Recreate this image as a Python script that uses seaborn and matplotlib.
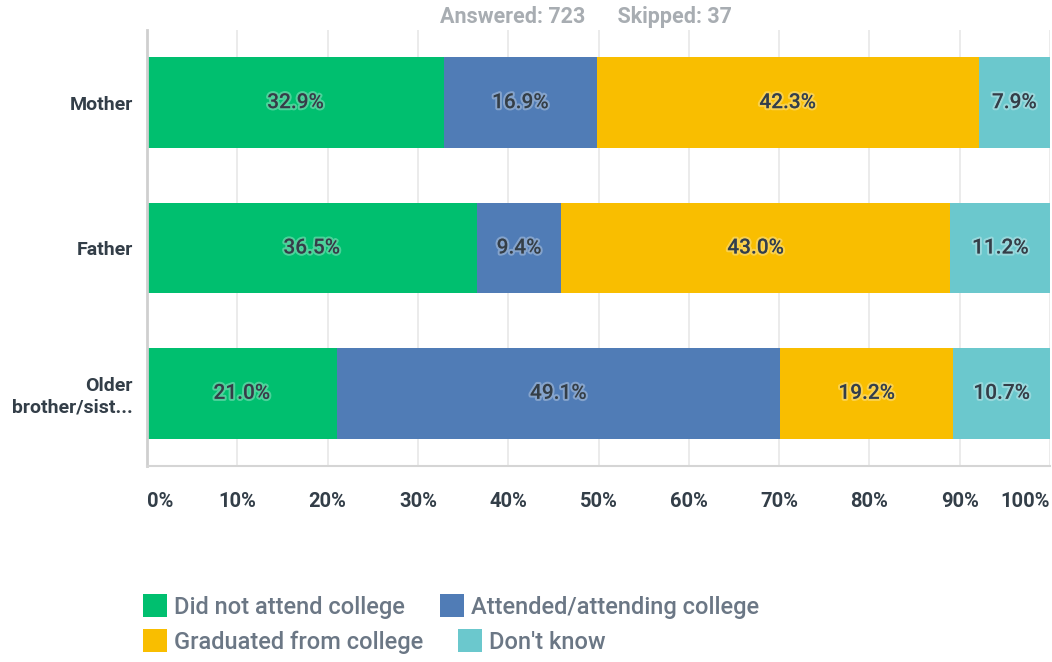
import numpy as np
import pandas as pd
import matplotlib
matplotlib.use('Agg')
import matplotlib.pyplot as plt
import matplotlib.patheffects as pe
from matplotlib.patches import Patch
import seaborn as sns

# survey answers, percent of respondents
relatives = ['Mother', 'Father', 'Older\nbrother/sist...']
answers = ['Did not attend college', 'Attended/attending college',
           'Graduated from college', "Don't know"]
did_not_attend = [32.9, 36.5, 21.0]
attended = [16.9, 9.4, 49.1]
graduated = [42.3, 43.0, 19.2]
dont_know = [7.9, 11.2, 10.7]
xticks = [0, 10, 20, 30, 40, 50, 60, 70, 80, 90, 100]
header = 'Answered: 723      Skipped: 37'

colors = ['#00BF6F', '#507CB6', '#F9BE00', '#6BC8CD']
dark = '#333E48'

sns.set_style('white')
plt.rcParams['font.family'] = ['Roboto', 'DejaVu Sans']

df = pd.DataFrame({'relative': relatives,
                   answers[0]: did_not_attend,
                   answers[1]: attended,
                   answers[2]: graduated,
                   answers[3]: dont_know})
vals = df[answers].to_numpy()
cum = vals.cumsum(axis=1)

fig = plt.figure(figsize=(10.52, 6.62), dpi=100)
ax = fig.add_axes([147 / 1052, 1 - 466 / 662, 903 / 1052, 436 / 662])

# stacked bars: draw cumulative totals from the widest down
for i in range(len(answers) - 1, -1, -1):
    sns.barplot(x=cum[:, i], y=df['relative'], orient='h', color=colors[i],
                saturation=1, width=0.625, linewidth=0, ax=ax, zorder=2)

# value labels
for r in range(len(relatives)):
    for i in range(len(answers)):
        xc = cum[r, i] - vals[r, i] / 2
        ax.text(xc, r, f'{vals[r, i]:.1f}%', ha='center', va='center',
                fontsize=15, fontweight='medium', color=dark, zorder=5,
                path_effects=[pe.withStroke(linewidth=3,
                                            foreground=(1, 1, 1, 0.3))])

ax.set_xlim(0, 100)
ax.set_ylim(2.5, -0.5)
ax.set_xlabel('')
ax.set_ylabel('')
ax.set_xticks(xticks)
ax.set_xticklabels([f'{t}%' for t in xticks])
for j, lab in enumerate(ax.get_xticklabels()):
    lab.set_fontweight('semibold')
    if j == 0:
        lab.set_ha('left')
    elif j == len(xticks) - 1:
        lab.set_ha('right')
ax.tick_params(axis='x', length=0, pad=19, labelsize=14.5, labelcolor=dark)
ax.tick_params(axis='y', length=0, pad=10, labelsize=14, labelcolor=dark)
for lab in ax.get_yticklabels():
    lab.set_fontweight('semibold')
    lab.set_ha('right')
    lab.set_multialignment('right')

ax.grid(axis='x', color='#E8E8E8', linewidth=1.2, zorder=0)
ax.set_axisbelow(True)
for s in ['top', 'right']:
    ax.spines[s].set_visible(False)
ax.spines['left'].set_color('#CFCFCF')
ax.spines['left'].set_linewidth(2)
ax.spines['bottom'].set_color('#D5D5D5')
ax.spines['bottom'].set_linewidth(1.5)

fig.text(586 / 1052, 1 - 17 / 662, header, ha='center', va='center',
         fontsize=15.5, fontweight='semibold', color='#A8ADB2')

# legend in two rows, like the survey page
handles = [Patch(facecolor=c, edgecolor='none') for c in colors]
leg_kw = dict(loc='upper left', frameon=False, ncol=2, fontsize=17,
              handlelength=1.0, handleheight=1.15, handletextpad=0.3,
              columnspacing=1.5, borderaxespad=0, borderpad=0,
              labelcolor='#6B7785')
leg1 = fig.legend(handles[:2], answers[:2],
                  bbox_to_anchor=(143 / 1052, 1 - 594 / 662), **leg_kw)
leg2 = fig.legend(handles[2:], answers[2:],
                  bbox_to_anchor=(143 / 1052, 1 - 629 / 662), **leg_kw)
for leg in (leg1, leg2):
    for t in leg.get_texts():
        t.set_fontweight('medium')

fig.savefig('out.png', dpi=100)
